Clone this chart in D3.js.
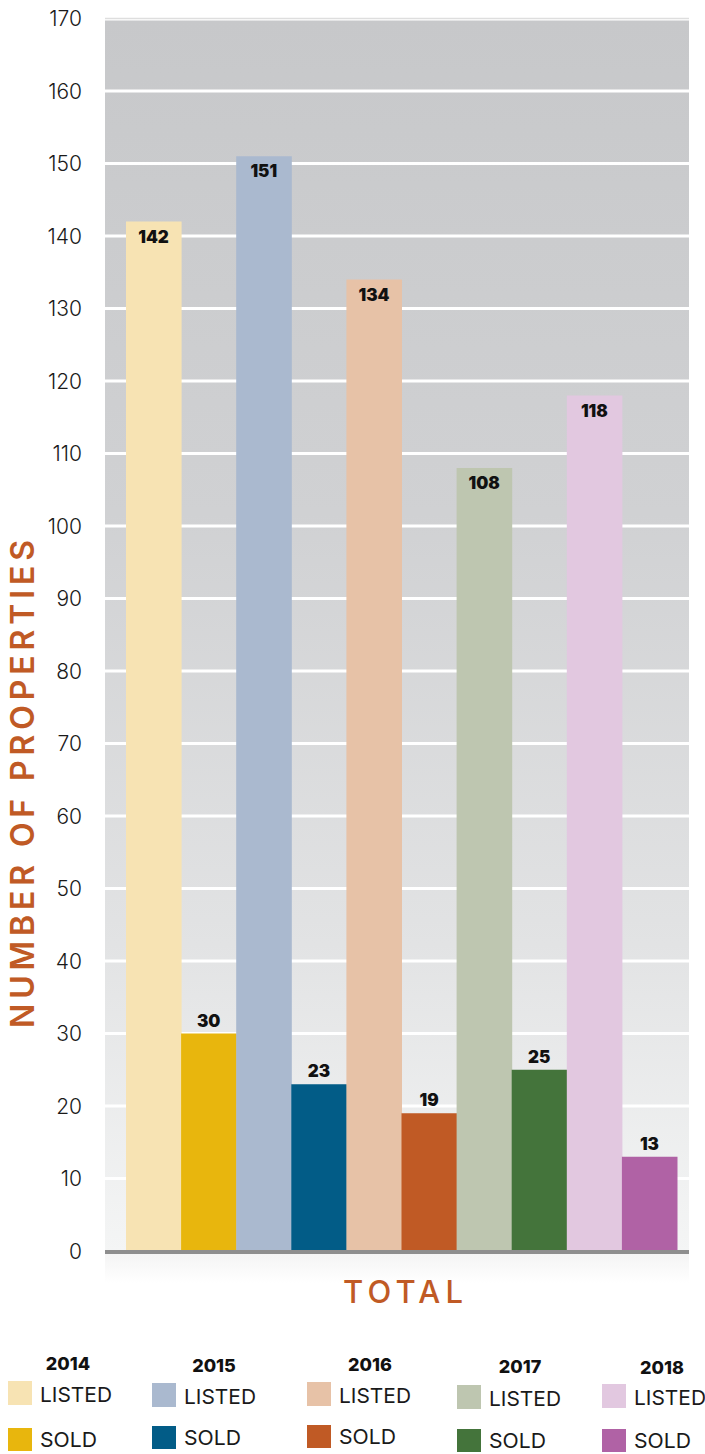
<!DOCTYPE html>
<html><head><meta charset="utf-8">
<script src="https://cdn.jsdelivr.net/npm/d3@7"></script>
<style>html,body{margin:0;padding:0;background:#fff;}svg{display:block;}</style>
</head><body>
<svg id="chart" width="705" height="1454"></svg>
<script>
const years = ["2014","2015","2016","2017","2018"];
const seriesNames = ["LISTED","SOLD"];
const listed = [142,151,134,108,118];
const sold = [30,23,19,25,13];
const listedColors = ["#f7e3b3","#aab9cf","#e7c2a7","#bec6b0","#e2c8e0"];
const soldColors = ["#e8b60d","#025c87","#c05a25","#44743b","#b062a5"];
const yTicks = [0,10,20,30,40,50,60,70,80,90,100,110,120,130,140,150,160,170];
const xCategory = "TOTAL";
const yTitle = "NUMBER OF PROPERTIES";

(function(){
const svg = d3.select("#chart");
const pLeft = 105, pRight = 689, pTop = 18.5, pBottom = 1251;
const font = "Inter, 'Open Sans', sans-serif";

const y = d3.scaleLinear().domain([0,170]).range([pBottom, pTop]);
const x0 = d3.scaleBand().domain(years).range([126, 677]).padding(0);
const x1 = d3.scaleBand().domain(seriesNames).range([0, x0.bandwidth()]).padding(0);

const defs = svg.append("defs");
const g1 = defs.append("linearGradient").attr("id","bg").attr("x1",0).attr("y1",0).attr("x2",0).attr("y2",1);
g1.append("stop").attr("offset","0%").attr("stop-color","#c7c8ca");
g1.append("stop").attr("offset","40%").attr("stop-color","#d0d1d3");
g1.append("stop").attr("offset","75%").attr("stop-color","#e2e3e4");
g1.append("stop").attr("offset","100%").attr("stop-color","#f4f5f5");
const g2 = defs.append("linearGradient").attr("id","fade").attr("x1",0).attr("y1",0).attr("x2",0).attr("y2",1);
g2.append("stop").attr("offset","0%").attr("stop-color","#f3f3f3");
g2.append("stop").attr("offset","100%").attr("stop-color","#ffffff");

svg.append("rect").attr("x",pLeft).attr("y",y(170)+2).attr("width",pRight-pLeft).attr("height",pBottom-y(170)-2).attr("fill","url(#bg)");
svg.append("rect").attr("x",pLeft).attr("y",pBottom).attr("width",pRight-pLeft).attr("height",32).attr("fill","url(#fade)");

svg.append("g").selectAll("line").data(yTicks.filter(d=>d>0)).join("line")
  .attr("x1",pLeft).attr("x2",pRight)
  .attr("y1",d=>y(d)).attr("y2",d=>y(d))
  .attr("stroke",d=>d===170?"#dedede":"#ffffff").attr("stroke-width",d=>d===170?1.5:3);

const yAxis = d3.axisLeft(y).tickValues(yTicks).tickSize(0).tickPadding(0);
const ya = svg.append("g").attr("transform","translate(82,0)").call(yAxis);
ya.select(".domain").remove();
ya.selectAll("text").attr("font-family",font).attr("font-size",21).attr("font-weight",300)
  .attr("fill","#1a1a1a").attr("dy","0.35em").attr("text-anchor","end");

const groups = svg.append("g").selectAll("g").data(years).join("g")
  .attr("transform",d=>`translate(${x0(d)},0)`);
groups.each(function(yr,i){
  const g = d3.select(this);
  const data = [{s:"LISTED",v:listed[i],c:listedColors[i]},{s:"SOLD",v:sold[i],c:soldColors[i]}];
  g.selectAll("rect").data(data).join("rect")
    .attr("x",d=>x1(d.s)).attr("width",x1.bandwidth()+0.5)
    .attr("y",d=>y(d.v)).attr("height",d=>y(0)-y(d.v)).attr("fill",d=>d.c);
  g.selectAll("text").data(data).join("text")
    .attr("x",d=>x1(d.s)+x1.bandwidth()/2)
    .attr("y",d=>d.s==="LISTED"? y(d.v)+21 : y(d.v)-7)
    .attr("text-anchor","middle").attr("font-family",font).attr("font-size",17).attr("font-weight",900)
    .attr("fill","#111").text(d=>d.v);
});

svg.append("line").attr("x1",pLeft).attr("x2",pRight).attr("y1",pBottom+1).attr("y2",pBottom+1)
  .attr("stroke","#8e8e8e").attr("stroke-width",4);

svg.append("text").attr("x",403).attr("y",1303).attr("text-anchor","middle")
  .attr("font-family",font).attr("font-size",31).attr("font-weight",500).attr("fill","#c05a25")
  .attr("textLength",120).attr("lengthAdjust","spacing").text(xCategory);

svg.append("text").attr("transform","translate(34,784) rotate(-90)").attr("text-anchor","middle")
  .attr("font-family",font).attr("font-size",32).attr("font-weight",600).attr("fill","#c05a25")
  .attr("textLength",488).attr("lengthAdjust","spacing").text(yTitle);

const legendPos = [
  {yx:68, yy:1370, sx:8, ly:1381, sy:1428},
  {yx:214, yy:1372, sx:152, ly:1383, sy:1426},
  {yx:370, yy:1371, sx:307, ly:1382, sy:1425},
  {yx:520, yy:1373, sx:457, ly:1385, sy:1429},
  {yx:662, yy:1374, sx:602, ly:1384, sy:1429}
];
const lg = svg.append("g").selectAll("g").data(years).join("g");
lg.each(function(yr,i){
  const g = d3.select(this), p = legendPos[i];
  g.append("text").attr("x",p.yx).attr("y",p.yy).attr("text-anchor","middle")
    .attr("font-family",font).attr("font-size",18).attr("font-weight",800).attr("fill","#111").text(yr);
  g.append("rect").attr("x",p.sx).attr("y",p.ly).attr("width",24).attr("height",24).attr("fill",listedColors[i]);
  g.append("rect").attr("x",p.sx).attr("y",p.sy).attr("width",24).attr("height",23).attr("fill",soldColors[i]);
  g.append("text").attr("x",p.sx+32).attr("y",p.ly+21).attr("font-family",font).attr("font-size",20)
    .attr("font-weight",400).attr("fill","#1a1a1a").attr("textLength",72).attr("lengthAdjust","spacingAndGlyphs").text(seriesNames[0]);
  g.append("text").attr("x",p.sx+32).attr("y",p.sy+19).attr("font-family",font).attr("font-size",20)
    .attr("font-weight",400).attr("fill","#1a1a1a").attr("textLength",57).attr("lengthAdjust","spacingAndGlyphs").text(seriesNames[1]);
});
})();
</script>
</body></html>
